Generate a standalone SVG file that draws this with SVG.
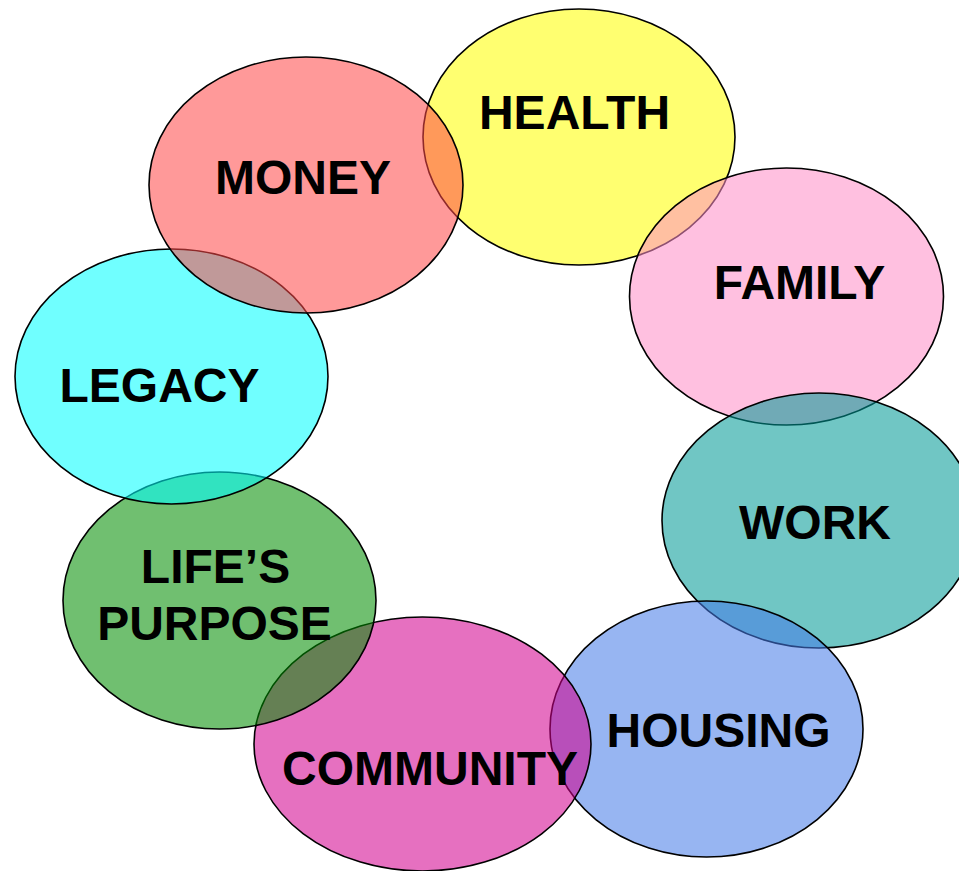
<svg xmlns="http://www.w3.org/2000/svg" width="959" height="871" viewBox="0 0 959 871">
<style>
.c{stroke:#000;stroke-width:1.6;fill-opacity:0.56}
.t{font-family:"Liberation Sans",Arial,sans-serif;font-weight:bold;font-size:48px;fill:#000;text-anchor:middle}
</style>
<rect width="959" height="871" fill="#fff"/>
<g id="health"><ellipse class="c" cx="579" cy="137" rx="156" ry="128" fill="#FFFF00"/><text class="t" x="574.5" y="129">HEALTH</text></g>
<g id="family"><ellipse class="c" cx="786.5" cy="296.5" rx="157" ry="128.5" fill="#FF8FC8"/><text class="t" x="799.5" y="299">FAMILY</text></g>
<g id="work"><ellipse class="c" cx="819" cy="520.5" rx="157" ry="127.5" fill="#009996"/><text class="t" x="815" y="539">WORK</text></g>
<g id="housing"><ellipse class="c" cx="706.5" cy="729" rx="156.5" ry="128" fill="#457BE8"/><text class="t" x="718.5" y="747">HOUSING</text></g>
<g id="community"><ellipse class="c" cx="422.5" cy="744" rx="168.5" ry="127" fill="#D2008F"/><text class="t" x="430" y="785">COMMUNITY</text></g>
<g id="lifes-purpose"><ellipse class="c" cx="219.5" cy="600.5" rx="156.5" ry="128.5" fill="#008C00"/><text class="t" x="215.5" y="583">LIFE’S</text><text class="t" x="214.5" y="640">PURPOSE</text></g>
<g id="legacy"><ellipse class="c" cx="171.5" cy="376.5" rx="156.5" ry="127.5" fill="#00FFFF"/><text class="t" x="159.5" y="402">LEGACY</text></g>
<g id="money"><ellipse class="c" cx="306" cy="185" rx="157" ry="128" fill="#FF4949"/><text class="t" x="303" y="194">MONEY</text></g>
<g id="connectors"></g>
</svg>
